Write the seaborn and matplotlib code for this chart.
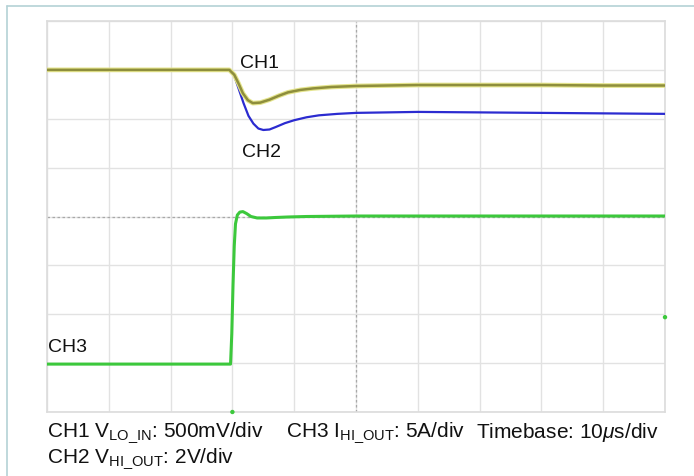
import numpy as np
import pandas as pd
import matplotlib
matplotlib.use("Agg")
import matplotlib.pyplot as plt
from matplotlib.lines import Line2D
import seaborn as sns

# ---- data (time in microseconds, amplitude in screen divisions) ----
ch1_t = [0, 10, 20, 29.5, 30.3, 31.0, 31.7, 32.5, 33.3, 34.5, 36, 37.5, 39, 41, 43, 46, 50, 55, 60, 70, 80, 90, 100]
ch1_v = [7.0, 7.0, 7.0, 7.0, 6.9, 6.72, 6.52, 6.38, 6.32, 6.33, 6.39, 6.47, 6.54, 6.59, 6.62, 6.65, 6.67, 6.68, 6.69, 6.69, 6.69, 6.68, 6.68]

ch2_t = [0, 10, 20, 29.5, 30.3, 31.0, 31.8, 32.6, 33.4, 34.2, 35.0, 36.0, 37.0, 38.5, 40, 42, 44, 47, 50, 55, 60, 70, 80, 90, 100]
ch2_v = [7.0, 7.0, 7.0, 7.0, 6.88, 6.62, 6.32, 6.06, 5.9, 5.8, 5.77, 5.78, 5.83, 5.91, 5.97, 6.03, 6.07, 6.1, 6.12, 6.13, 6.14, 6.13, 6.12, 6.11, 6.10]

ch3_t = [0, 10, 20, 29.7, 29.9, 30.1, 30.3, 30.5, 30.8, 31.2, 31.7, 32.3, 33.0, 34.0, 35.5, 37, 39, 42, 50, 60, 80, 100]
ch3_v = [0.98, 0.98, 0.98, 0.98, 1.6, 2.6, 3.4, 3.85, 4.03, 4.09, 4.1, 4.06, 4.0, 3.97, 3.97, 3.98, 3.99, 4.0, 4.01, 4.01, 4.01, 4.01]

marker_t = [30, 100]
marker_v = [0, 1.94]

labels = ["CH1", "CH2", "CH3"]
label_pos_t = [31.2, 31.6, 0.2]
label_pos_v = [7.16, 5.32, 1.33]

caption_line1 = [r"CH1 V$_{\mathregular{LO\_IN}}$: 500mV/div",
                 r"CH3 I$_{\mathregular{HI\_OUT}}$: 5A/div",
                 r"Timebase: 10$\mu$s/div"]
caption_line2 = r"CH2 V$_{\mathregular{HI\_OUT}}$: 2V/div"

# ---- style ----
sns.set_style("white")
plt.rcParams["font.family"] = ["Liberation Sans", "DejaVu Sans"]
plt.rcParams["mathtext.fontset"] = "custom"
plt.rcParams["mathtext.rm"] = "Liberation Sans"
plt.rcParams["mathtext.it"] = "Liberation Sans:italic"

fig = plt.figure(figsize=(6.94, 4.77), dpi=100)
ax = fig.add_axes([47 / 694, 64 / 477, 618 / 694, 391 / 477])

ax.set_xlim(0, 100)
ax.set_ylim(0, 8)
ax.set_xticks(np.arange(0, 101, 10))
ax.set_yticks(np.arange(0, 9, 1))
ax.set_xticklabels([])
ax.set_yticklabels([])
ax.tick_params(length=0)
ax.grid(True, color="#e2e2e2", lw=1.0)
for s in ax.spines.values():
    s.set_color("#dcdcdc")
    s.set_linewidth(1.2)
ax.axvline(50, color="#a8a8a8", lw=0.9, ls=(0, (2, 2)), zorder=1)
ax.axhline(4, color="#a8a8a8", lw=0.9, ls=(0, (2, 2)), zorder=1)

df1 = pd.DataFrame({"t": ch1_t, "v": ch1_v})
df2 = pd.DataFrame({"t": ch2_t, "v": ch2_v})
df3 = pd.DataFrame({"t": ch3_t, "v": ch3_v})

sns.lineplot(data=df3, x="t", y="v", ax=ax, color="#3cc83c", lw=2.2, zorder=3)
sns.lineplot(data=df2, x="t", y="v", ax=ax, color="#2b2bd0", lw=1.6, zorder=4)
sns.lineplot(data=df1, x="t", y="v", ax=ax, color="#e4e48c", lw=3.4, zorder=5)
sns.lineplot(data=df1, x="t", y="v", ax=ax, color="#8e8e3c", lw=1.8, zorder=6)
sns.scatterplot(x=marker_t, y=marker_v, ax=ax, color="#3cc83c", s=10, edgecolor="none",
                zorder=7, clip_on=False)
ax.set_xlabel("")
ax.set_ylabel("")

for lab, tx, ty in zip(labels, label_pos_t, label_pos_v):
    ax.text(tx, ty, lab, fontsize=14, va="center", ha="left", color="#111111")

# caption
cap_fs = 15
y1 = 1 - 433 / 477
y2 = 1 - 459 / 477
fig.text(47 / 694, y1, caption_line1[0], fontsize=cap_fs, va="center", ha="left", color="#111111")
fig.text(286 / 694, y1, caption_line1[1], fontsize=cap_fs, va="center", ha="left", color="#111111")
fig.text(476 / 694, y1, caption_line1[2], fontsize=cap_fs, va="center", ha="left", color="#111111")
fig.text(47 / 694, y2, caption_line2, fontsize=cap_fs, va="center", ha="left", color="#111111")

# outer frame (top and left edges)
fig.add_artist(Line2D([7 / 694, 1.0], [1 - 7 / 477, 1 - 7 / 477], transform=fig.transFigure,
                      color="#b4d2d6", lw=1.2))
fig.add_artist(Line2D([7 / 694, 7 / 694], [0, 1 - 7 / 477], transform=fig.transFigure,
                      color="#b4d2d6", lw=1.2))

fig.savefig("out.png", dpi=100, facecolor="white")
